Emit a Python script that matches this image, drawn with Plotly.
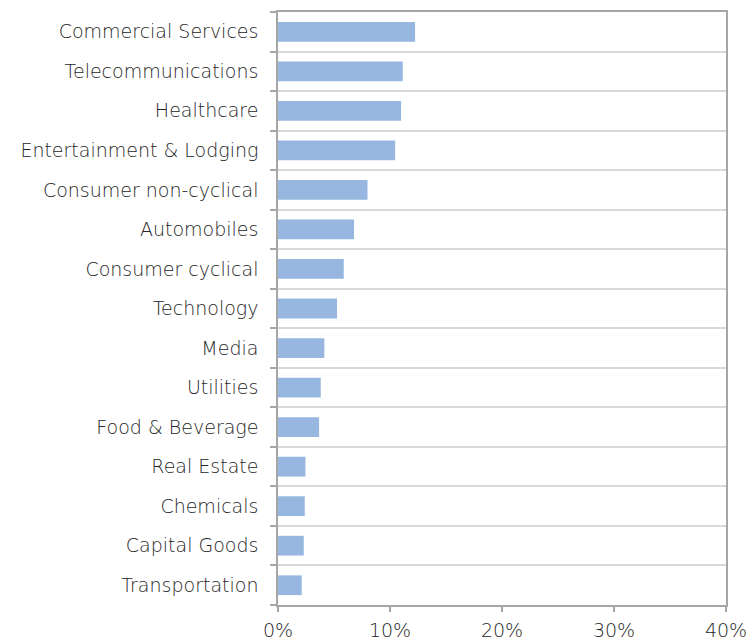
import plotly.graph_objects as go

categories = ["Commercial Services", "Telecommunications", "Healthcare",
              "Entertainment & Lodging", "Consumer non-cyclical", "Automobiles",
              "Consumer cyclical", "Technology", "Media", "Utilities",
              "Food & Beverage", "Real Estate", "Chemicals", "Capital Goods",
              "Transportation"]
values = [12.24, 11.14, 10.99, 10.46, 7.99, 6.79, 5.87, 5.27, 4.14, 3.82,
          3.67, 2.45, 2.39, 2.30, 2.12]
x_ticks = [0, 10, 20, 30, 40]
x_labels = ["0%", "10%", "20%", "30%", "40%"]

fig = go.Figure(go.Bar(
    x=values, y=categories, orientation="h",
    marker=dict(color="#97b7e1", line=dict(width=0)),
    width=0.5,
))

axis_col = "#a6a6a6"
fig.update_layout(
    width=752, height=640,
    margin=dict(l=278, r=26, t=12, b=35),
    plot_bgcolor="white", paper_bgcolor="white",
    showlegend=False,
    font=dict(family="DejaVu Sans", size=19, color="#262626", weight=200),
    xaxis=dict(range=[0, 40], tickvals=x_ticks, ticktext=x_labels,
               showgrid=False, zeroline=False, automargin=False,
               showline=True, linecolor=axis_col, linewidth=1.5, mirror=True,
               ticks="outside", ticklen=5, tickcolor=axis_col, tickwidth=1.5,
               ticklabelstandoff=2),
    yaxis=dict(type="category", categoryorder="array",
               categoryarray=categories[::-1], automargin=False,
               tickson="boundaries", showgrid=True, gridcolor="#d9d9d9",
               gridwidth=1.5,
               showline=True, linecolor=axis_col, linewidth=1.5, mirror=True,
               ticks="outside", ticklen=6, tickcolor=axis_col, tickwidth=1.5,
               ticklabelstandoff=14),
)

fig.write_html("out.html")
